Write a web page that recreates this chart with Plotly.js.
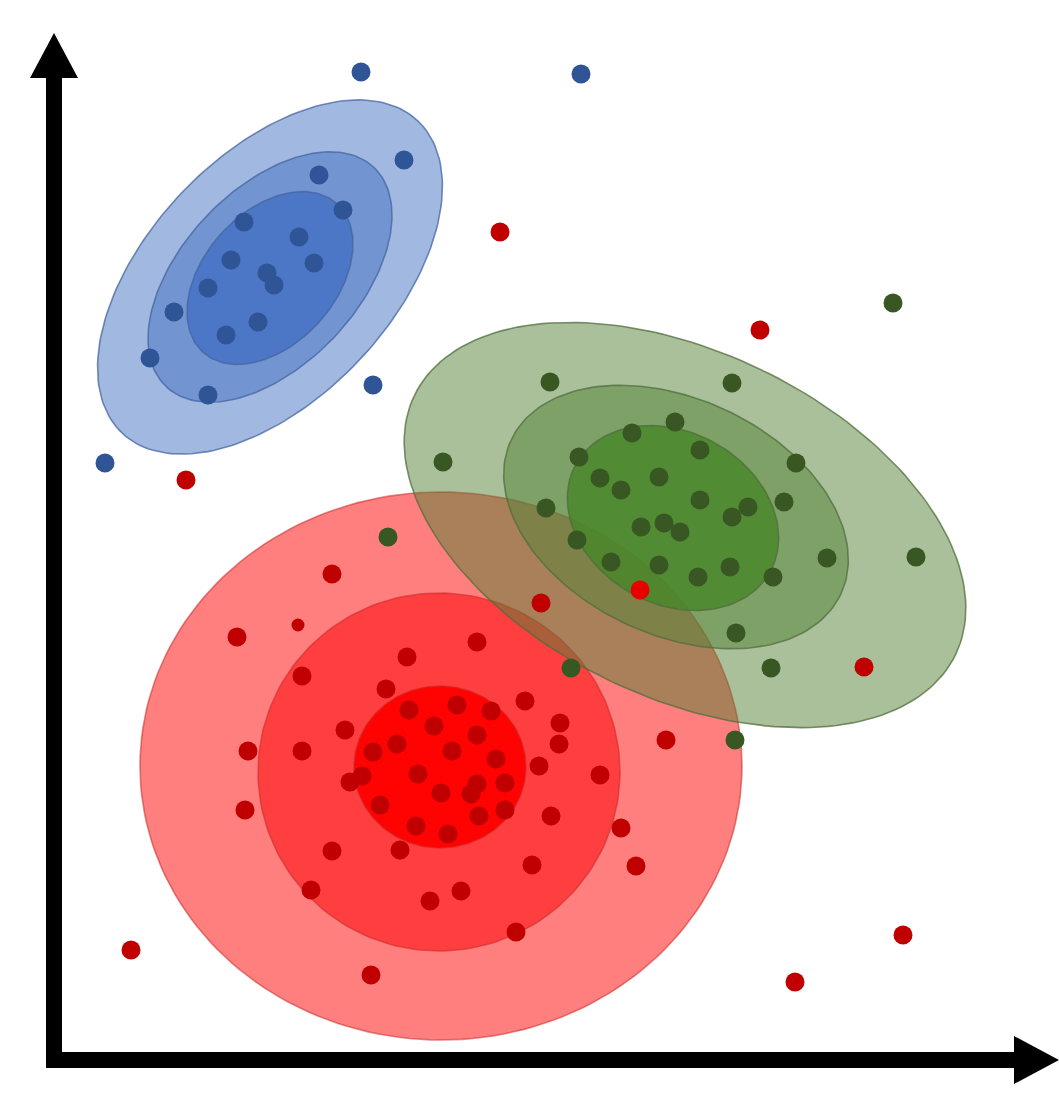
<!DOCTYPE html>
<html>
<head>
<meta charset="utf-8">
<script src="https://cdn.plot.ly/plotly-3.0.1.min.js"></script>
<style>html,body{margin:0;padding:0;background:#fff;}#chart{width:1059px;height:1098px;}</style>
</head>
<body>
<div id="chart"></div>
<script>
// ---- Data (arbitrary units, origin at axes corner, y up) ----
const blueX = [307,527,350,265,289,190,245,177,260,213,220,154,120,204,172,96,154,319,51];
const blueY = [988,986,900,885,850,838,823,800,797,787,775,772,748,738,725,702,665,675,597];

const greenX = [839,496,678,389,621,578,525,646,742,546,567,605,492,646,694,678,730,587,610,626,523,557,605,644,676,719,773,862,682,717,517,681,334];
const greenY = [757,678,677,598,638,627,603,610,597,582,570,583,552,560,553,543,558,533,537,528,520,498,495,483,493,483,502,503,427,392,392,320,523];

const redX = [446,132,706,810,487,278,183,423,353,248,332,471,355,403,437,380,423,506,505,291,343,319,398,442,194,248,485,546,296,308,364,423,451,387,417,326,425,451,497,362,394,191,567,278,346,582,478,257,376,407,462,77,317,612,741,849];
const redY = [828,580,730,393,457,486,423,418,403,384,371,359,350,355,349,334,325,337,316,330,316,308,309,301,309,309,294,285,278,284,286,276,277,267,266,255,244,250,244,234,226,250,232,209,210,194,195,170,159,169,128,110,85,320,78,125];
const redSmallX = [244];
const redSmallY = [435];
const redBrightX = [586];
const redBrightY = [470];

// Gaussian contour ellipses: centre, semi-axes, rotation (deg), outer -> inner
const blueCenterX = [216,216,216];
const blueCenterY = [783,783,782];
const blueSemiMajor = [215,151,100];
const blueSemiMinor = [122,88,66];
const blueAngle = [46.5,46.5,48];

const greenCenterX = [631,622,619];
const greenCenterY = [535,543,542];
const greenSemiMajor = [300,182,111];
const greenSemiMinor = [173,118,86];
const greenAngle = [-25.5,-25,-29];

const redCenterX = [387,385,386];
const redCenterY = [294,288,293];
const redSemiX = [301,181,86];
const redSemiY = [274,179,81];
const redAngle = [0,0,0];

// axis extents
const axisXEnd = 1005;
const axisYEnd = 1027;

// ---- Build ----
function ellipse(cx, cy, a, b, angDeg) {
  const t = angDeg * Math.PI / 180, xs = [], ys = [];
  for (let i = 0; i <= 180; i++) {
    const p = 2 * Math.PI * i / 180;
    const ex = a * Math.cos(p), ey = b * Math.sin(p);
    xs.push(cx + ex * Math.cos(t) - ey * Math.sin(t));
    ys.push(cy + ex * Math.sin(t) + ey * Math.cos(t));
  }
  return {xs, ys};
}
function ellTraces(cxs, cys, as, bs, angs, fills, lineColor) {
  return cxs.map((cx, i) => {
    const e = ellipse(cx, cys[i], as[i], bs[i], angs[i]);
    return {x: e.xs, y: e.ys, type: 'scatter', mode: 'lines', fill: 'toself',
      fillcolor: fills[i], line: {color: lineColor, width: 1.6}, hoverinfo: 'skip', showlegend: false};
  });
}

const traces = [];
traces.push(...ellTraces(redCenterX, redCenterY, redSemiX, redSemiY, redAngle,
  ['rgba(255,0,0,0.5)','rgba(255,0,0,0.5)','rgba(255,0,0,0.95)'], 'rgba(200,40,40,0.55)'));
traces.push(...ellTraces(blueCenterX, blueCenterY, blueSemiMajor, blueSemiMinor, blueAngle,
  ['rgba(68,114,196,0.5)','rgba(68,114,196,0.5)','rgba(68,114,196,0.85)'], 'rgba(70,100,160,0.75)'));
traces.push(...ellTraces(greenCenterX, greenCenterY, greenSemiMajor, greenSemiMinor, greenAngle,
  ['rgba(84,130,53,0.5)','rgba(84,130,53,0.5)','rgba(70,135,40,0.8)'], 'rgba(80,110,60,0.75)'));

function dots(xs, ys, color, size) {
  return {x: xs, y: ys, type: 'scatter', mode: 'markers',
    marker: {color: color, size: size, line: {width: 0}}, hoverinfo: 'skip', showlegend: false};
}
traces.push(dots(redX, redY, '#C00000', 19));
traces.push(dots(redSmallX, redSmallY, '#C00000', 13));
traces.push(dots(redBrightX, redBrightY, '#E60000', 19));
traces.push(dots(blueX, blueY, '#2F5597', 19));
traces.push(dots(greenX, greenY, '#385723', 19));

const layout = {
  width: 1059, height: 1098,
  margin: {l: 0, r: 0, t: 0, b: 0},
  paper_bgcolor: '#ffffff', plot_bgcolor: '#ffffff',
  xaxis: {range: [-54, 1005], visible: false, fixedrange: true},
  yaxis: {range: [-38, 1060], visible: false, fixedrange: true},
  showlegend: false,
  shapes: [
    {type: 'line', x0: 0, y0: -8, x1: 0, y1: axisYEnd - 40, line: {color: '#000', width: 16}, layer: 'above'},
    {type: 'path', path: `M -24 ${axisYEnd-45} L 0 ${axisYEnd} L 24 ${axisYEnd-45} Z`, fillcolor: '#000', line: {width: 0}, layer: 'above'},
    {type: 'line', x0: -8, y0: 0, x1: axisXEnd - 40, y1: 0, line: {color: '#000', width: 16}, layer: 'above'},
    {type: 'path', path: `M ${axisXEnd-45} 24 L ${axisXEnd} 0 L ${axisXEnd-45} -24 Z`, fillcolor: '#000', line: {width: 0}, layer: 'above'}
  ]
};

Plotly.newPlot('chart', traces, layout, {displayModeBar: false, staticPlot: true});
</script>
</body>
</html>
